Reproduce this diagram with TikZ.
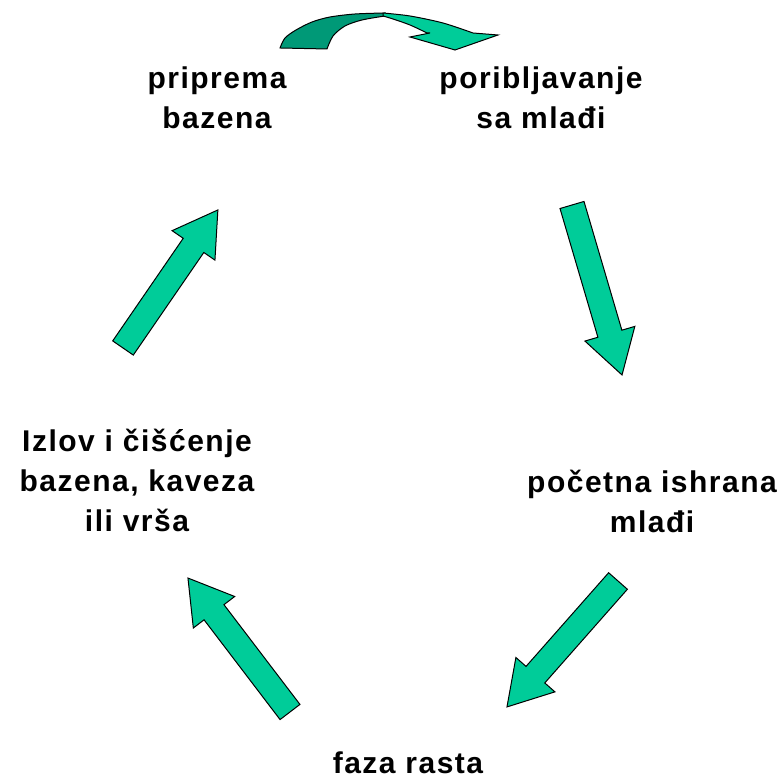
\documentclass[tikz,border=0pt]{standalone}
\usepackage{fontspec}
\setmainfont{Liberation Sans}[LetterSpace=5]
\definecolor{arrowgreen}{RGB}{0,204,153}
\definecolor{arrowdark}{RGB}{0,153,119}
\tikzset{
  lbl/.style={align=center, inner sep=0pt, font=\bfseries\fontsize{30}{40}\selectfont},
  arrowfill/.style={fill=arrowgreen, draw=black, line width=1pt, line join=miter},
}
\newcommand{\blkarrow}[4]{%
  \begin{scope}[shift={(#1,#2)},rotate=#3]
    \draw[arrowfill] (0,-12.5) -- ({#4-43},-12.5) -- ({#4-43},-26) -- (#4,0)
      -- ({#4-43},26) -- ({#4-43},12.5) -- (0,12.5) -- cycle;
  \end{scope}}
\begin{document}
\begin{tikzpicture}[x=1pt,y=1pt]
\useasboundingbox[fill=white] (0,0) rectangle (784,778);
% labels
\node[lbl] (prip) at (217,680.4) {priprema\\bazena};
\node[lbl] (pori) at (541,680.4) {poribljavanje\\sa mlađi};
\node[lbl] (poc) at (652,276.5) {početna ishrana\\mlađi};
\node[lbl] (faza) at (408,15.5) {faza rasta};
\node[lbl] (izl) at (137,297.5) {Izlov i čišćenje\\bazena, kaveza\\ili vrša};
% straight block arrows
\blkarrow{123}{430}{55.5}{167.5}
\blkarrow{572}{573}{-73.6}{177.2}
\blkarrow{618}{197}{-131.4}{167.9}
\blkarrow{290}{66}{127.3}{168.4}
% curved arrow at top
\draw[fill=arrowdark, draw=black, line width=1pt]
  plot[smooth] coordinates {(280,730) (285,740) (296,748) (312,756) (330,761) (355,764) (385,765)}
  -- plot[smooth] coordinates {(385,762) (362,758) (345,752) (333,742) (327,729)} -- cycle;
\draw[fill=arrowgreen, draw=black, line width=1pt]
  plot[smooth] coordinates {(383,765) (410,762) (443,755) (473,745)}
  -- (498,743) -- (455,728) -- (410,741) -- (430,745)
  -- plot[smooth] coordinates {(427,745) (410,753) (393,759) (383,762)} -- cycle;
\end{tikzpicture}
\end{document}
